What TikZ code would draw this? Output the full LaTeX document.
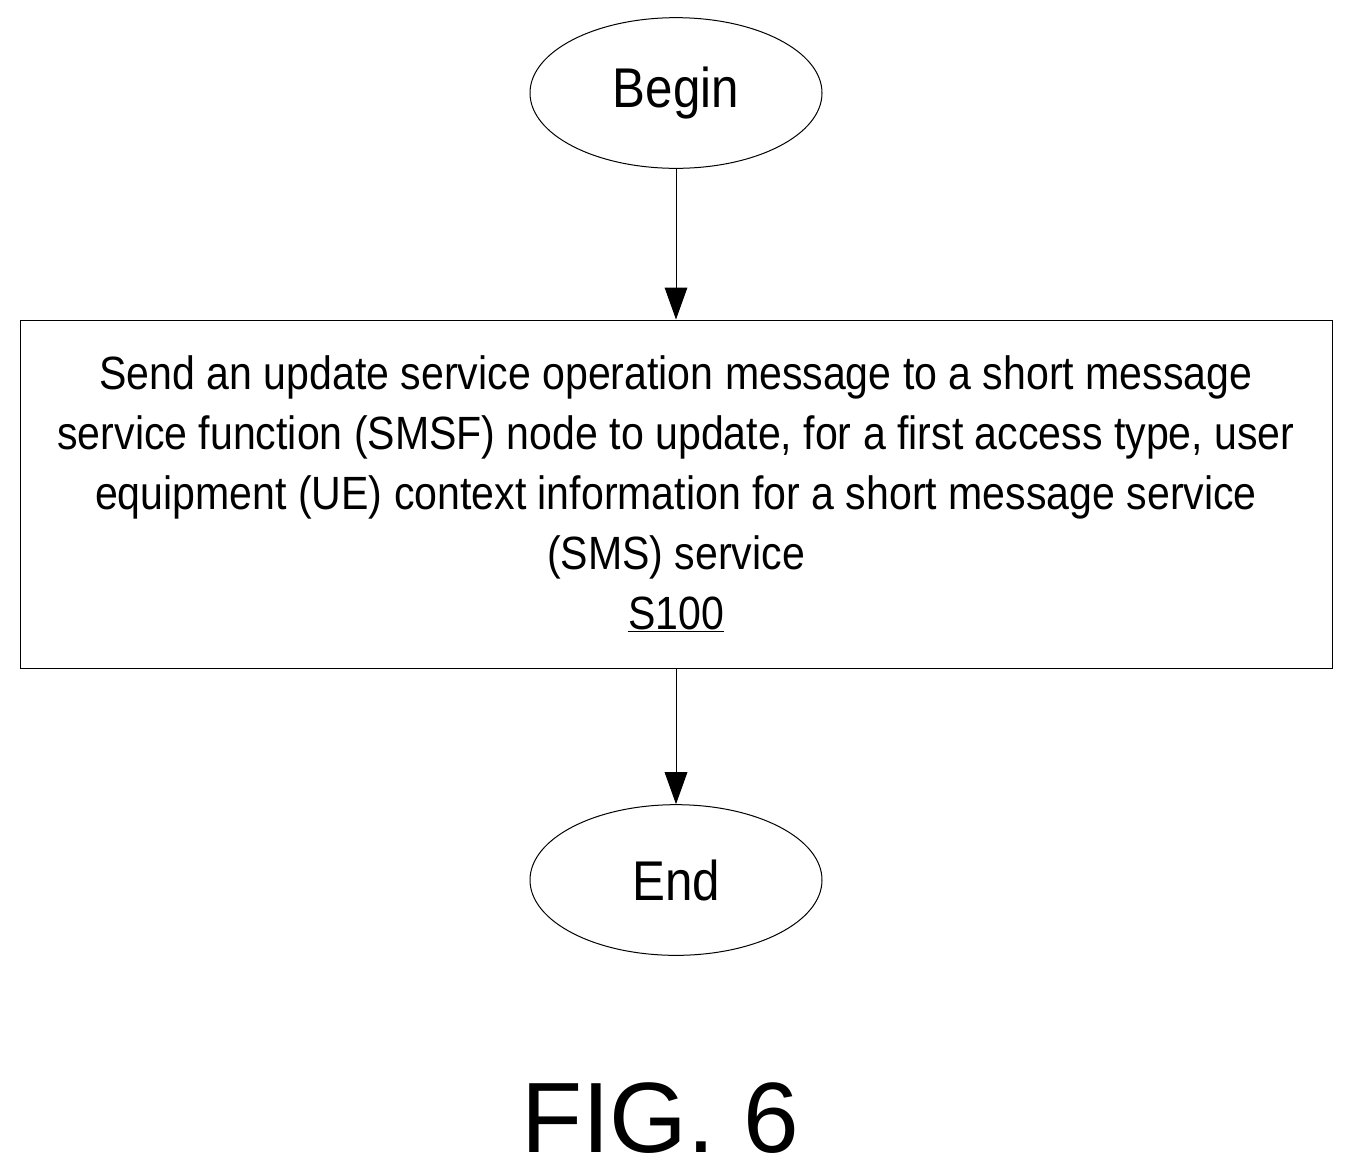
\documentclass[tikz,border=0pt]{standalone}
\usepackage{fontspec}
\setmainfont{Liberation Sans}
\newfontfamily\narrowfont[FakeStretch=0.88]{Liberation Sans}
\usetikzlibrary{shapes.geometric,arrows.meta}
\tikzset{every picture/.style={line width=0.75pt}}
\tikzset{
  terminal/.style={draw, ellipse, minimum width=219pt, minimum height=113pt, font=\narrowfont\fontsize{42}{48}\selectfont},
  process/.style={draw, rectangle, minimum width=984pt, minimum height=261pt, align=center, font=\narrowfont\fontsize{35}{45}\selectfont},
  flow/.style={-{Triangle[length=24pt,width=17pt]}}
}
\begin{document}
\begin{tikzpicture}[x=0.75pt,y=0.75pt,yscale=-1,xscale=1]
	\useasboundingbox (0,0) rectangle (1352,1175);

	% Begin
	\node [terminal] (begin) at (676,93) {Begin};
	% Step S100
	\node [process] (s100) at (676,494) {Send an update service operation message to a short message\\service function (SMSF) node to update, for a first access type, user\\equipment (UE) context information for a short message service\\(SMS) service\\\underline{S100}};
	% End
	\node [terminal] (end) at (676,880) {End};

	%Arrows
	\draw [flow] (begin) -- (s100);
	\draw [flow] (s100) -- (end);

	% Text Node
	\node (fig) at (660,1118) {\fontsize{75}{80}\selectfont FIG. 6};
\end{tikzpicture}
\end{document}
